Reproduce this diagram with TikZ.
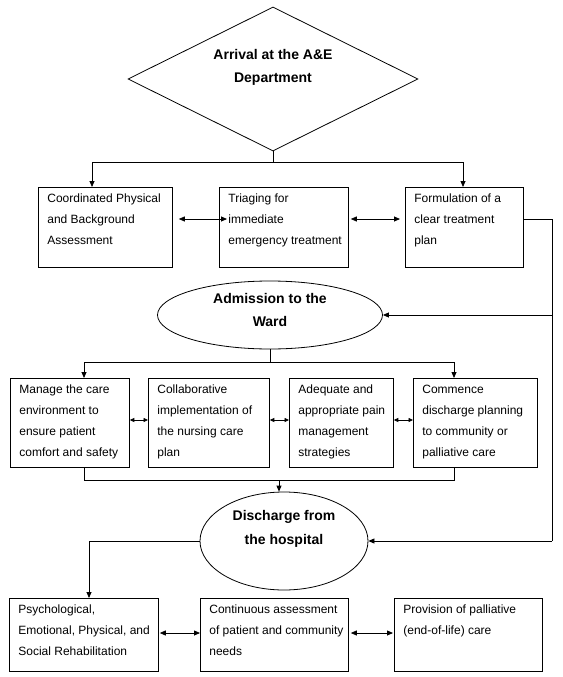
\documentclass[tikz,border=0pt]{standalone}
\usepackage{fontspec}
\setmainfont{Liberation Sans}
\usetikzlibrary{shapes.geometric,arrows.meta,calc}
\newcommand{\bxt}[3]{\hspace*{9pt}\parbox[c][#2pt][t]{\dimexpr#1pt-9pt\relax}{\fontsize{12}{20.8}\selectfont\raggedright\rule{0pt}{15.5pt}#3}}
\tikzset{
  bx/.style={draw, line width=0.8pt, inner sep=0pt, anchor=north west},
  conn/.style={line width=0.8pt},
  arr/.style={line width=0.8pt, -{Triangle[length=6pt,width=5pt]}},
  darr/.style={line width=0.8pt, {Triangle[length=6pt,width=5pt]}-{Triangle[length=6pt,width=5pt]}},
  sdarr/.style={line width=0.8pt, {Triangle[length=4.5pt,width=4pt]}-{Triangle[length=4.5pt,width=4pt]}},
  ttl/.style={font=\fontsize{14}{23}\selectfont\bfseries, align=center, inner sep=0pt, draw, line width=0.8pt}
}
\begin{document}
\begin{tikzpicture}[x=1pt,y=-1pt]
\useasboundingbox[fill=white] (0,0) rectangle (562,677);
% titles
\node[ttl, diamond, aspect=2, minimum width=290pt, minimum height=144pt, text depth=26.5pt] (dia) at (273,79) {Arrival at the A\&E\\Department};
\node[ttl, ellipse, minimum width=225pt, minimum height=68pt, text depth=10.5pt] (adm) at (270,315) {Admission to the\\Ward};
\node[ttl, ellipse, minimum width=168pt, minimum height=98pt, text depth=26.5pt, font=\fontsize{14}{24}\selectfont\bfseries] (dis) at (284,541) {Discharge from\\the hospital};
% row 1
\node[bx] (b1) at (38,187) {\bxt{134}{80}{Coordinated Physical\\and Background\\Assessment}};
\node[bx] (b2) at (219,187) {\bxt{129}{80}{Triaging for\\immediate\\emergency treatment}};
\node[bx] (b3) at (405,187) {\bxt{118}{80}{Formulation of a\\clear treatment\\plan}};
% row 2
\node[bx] (bA) at (10,378) {\bxt{119}{89}{Manage the care\\environment to\\ensure patient\\comfort and safety}};
\node[bx] (bB) at (148,378) {\bxt{121}{89}{Collaborative\\implementation of\\the nursing care\\plan}};
\node[bx] (bC) at (289,378) {\bxt{104}{89}{Adequate and\\appropriate pain\\management\\strategies}};
\node[bx] (bD) at (413,378) {\bxt{124}{89}{Commence\\discharge planning\\to community or\\palliative care}};
% row 3
\node[bx] (p1) at (9,598) {\bxt{149}{73}{Psychological,\\Emotional, Physical, and\\Social Rehabilitation}};
\node[bx] (p2) at (200,598) {\bxt{148}{73}{Continuous assessment\\of patient and community\\needs}};
\node[bx] (p3) at (394,598) {\bxt{148}{73}{Provision of palliative\\(end-of-life) care}};
% connectors top
\coordinate (j1) at (273,162);
\draw[conn] (dia.south) -- (j1);
\draw[arr] (j1) -| ($(b1.north west)+(54,0)$);
\draw[arr] (j1) -| ($(b3.north west)+(58,0)$);
\draw[darr] ($(b1.north east)+(6,32)$) -- ($(b2.north west)+(8,32)$);
\draw[darr] ($(b2.north east)+(2,32)$) -- ($(b3.north west)+(-5,32)$);
% right side loop
\coordinate (rt) at (552,219);
\coordinate (rb) at (552,541);
\draw[conn] ($(b3.north east)+(0,32)$) -- (rt) -- (rb);
\draw[arr] (rb) -- (dis.east);
\draw[arr] (rt |- adm.east) -- (adm.east);
% admission branch
\coordinate (j2) at (270,362);
\draw[conn] (adm.south) -- (j2);
\draw[arr] (j2) -| ($(bA.north west)+(74,0)$);
\draw[arr] (j2) -| ($(bD.north west)+(41,0)$);
\draw[sdarr] ($(bA.north east)+(0,42)$) -- ($(bB.north west)+(0,42)$);
\draw[sdarr] ($(bB.north east)+(0,42)$) -- ($(bC.north west)+(0,42)$);
\draw[sdarr] ($(bC.north east)+(0,42)$) -- ($(bD.north west)+(0,42)$);
% merge into discharge
\coordinate (j3) at (279,480);
\draw[conn] ($(bA.south west)+(74,0)$) |- ($(bD.south west)+(41,13)$) -- ($(bD.south west)+(41,0)$);
\draw[arr] (j3) -- (j3 |- dis.north);
% discharge branch
\draw[arr] (dis.west) -| ($(p1.north west)+(80,0)$);
\draw[darr] ($(p1.north east)+(1,35)$) -- ($(p2.north west)+(0,35)$);
\draw[darr] ($(p2.north east)+(2,35)$) -- ($(p3.north west)+(-1,35)$);
\end{tikzpicture}
\end{document}
